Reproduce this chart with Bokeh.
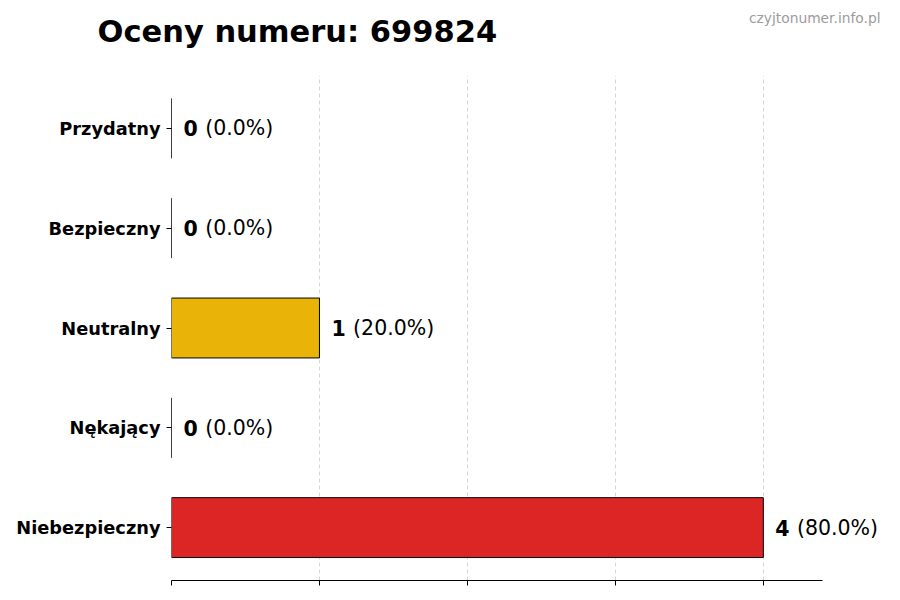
from bokeh.plotting import figure
from bokeh.layouts import column, row
from bokeh.models import FactorRange, Range1d, ColumnDataSource, FixedTicker, CustomJSTickFormatter
from bokeh.core.properties import value
from bokeh.embed import file_html
from bokeh.resources import INLINE

# data (top to bottom as shown)
categories = ["Przydatny", "Bezpieczny", "Neutralny", "Nękający", "Niebezpieczny"]
counts = [0, 0, 1, 0, 4]
colors = ["#16A34A", "#2563EB", "#EAB308", "#F97316", "#DC2626"]
title_text = "Oceny numeru: 699824"
watermark = "czyjtonumer.info.pl"

total = sum(counts)
percents = [100.0 * c / total for c in counts]
num_labels = [str(c) for c in counts]
pct_labels = ["(%.1f%%)" % p for p in percents]

FONT = "DejaVu Sans"
VAL_FS = 20.5
factors = list(reversed(categories))

W, H = 892, 592
HEAD = 75
LEFT, BOTTOM = 171, 12
AXIS_PX = 651  # visible x-axis length in pixels
frame_w = W - LEFT
xmax = max(counts) * 1.1

# ---- header figure (title + watermark), in pixel coordinates
head = figure(width=W, height=HEAD, output_backend="svg", toolbar_location=None,
              x_range=Range1d(0, W), y_range=Range1d(0, HEAD),
              min_border_left=0, min_border_right=0, min_border_top=0, min_border_bottom=0)
head.axis.visible = False
head.grid.visible = False
head.outline_line_color = None
head.border_fill_color = "white"
head.background_fill_color = "white"
head.text(x=[97], y=[HEAD - 31], text=[title_text], text_font=value(FONT), text_font_style="bold",
          text_font_size="30.5px", text_baseline="middle", text_align="left", text_color="black")
head.text(x=[880], y=[HEAD - 17], text=[watermark], text_font=value(FONT),
          text_font_size="13.8px", text_baseline="middle", text_align="right", text_color="#9c9c9c")

# ---- main chart
p = figure(width=W, height=H - HEAD, output_backend="svg", toolbar_location=None,
           y_range=FactorRange(factors=factors, range_padding=0.03, range_padding_units="absolute"),
           x_range=Range1d(0, xmax * frame_w / AXIS_PX),
           min_border_left=LEFT, min_border_right=0, min_border_top=0, min_border_bottom=BOTTOM)
p.outline_line_color = None
p.background_fill_color = "white"
p.border_fill_color = "white"

src = ColumnDataSource(dict(cat=categories, cnt=counts, col=colors, num=num_labels, pct=pct_labels,
                            poff=[12 + len(n) * 0.696 * VAL_FS + 0.36 * VAL_FS for n in num_labels]))
p.hbar(y="cat", right="cnt", left=0, height=0.6, fill_color="col", line_color="black",
       line_width=1, source=src)
p.text(x="cnt", y="cat", text="num", x_offset=12, text_baseline="middle", text_align="left",
       text_font=value(FONT), text_font_size=f"{VAL_FS}px", text_font_style="bold",
       text_color="black", source=src)
p.text(x="cnt", y="cat", text="pct", x_offset="poff", text_baseline="middle", text_align="left",
       text_font=value(FONT), text_font_size=f"{VAL_FS}px", text_color="black", source=src)

# axes
p.xaxis.bounds = (0, xmax)
p.xaxis.ticker = FixedTicker(ticks=list(range(0, max(counts) + 1)))
p.xaxis.formatter = CustomJSTickFormatter(code="return ''")
p.xaxis.major_label_text_font_size = "1px"
p.xaxis.major_label_standoff = 0
p.xaxis.major_tick_out = 5
p.xaxis.major_tick_in = 0
p.xaxis.minor_tick_line_color = None
p.xaxis.axis_line_color = "black"
p.xaxis.major_tick_line_color = "black"

p.yaxis.axis_line_color = None
p.yaxis.major_tick_out = 5
p.yaxis.major_tick_in = 0
p.yaxis.major_tick_line_color = "black"
p.yaxis.major_label_text_font = FONT
p.yaxis.major_label_text_font_style = "bold"
p.yaxis.major_label_text_font_size = "17.8px"
p.yaxis.major_label_text_color = "black"
p.yaxis.major_label_standoff = 6

p.ygrid.grid_line_color = None
p.xgrid.grid_line_color = "#cccccc"
p.xgrid.grid_line_dash = "4 3"
p.xgrid.grid_line_width = 0.8

layout = column(row(head, spacing=0), p, spacing=0)
open("out.html", "w").write(file_html(layout, INLINE))
